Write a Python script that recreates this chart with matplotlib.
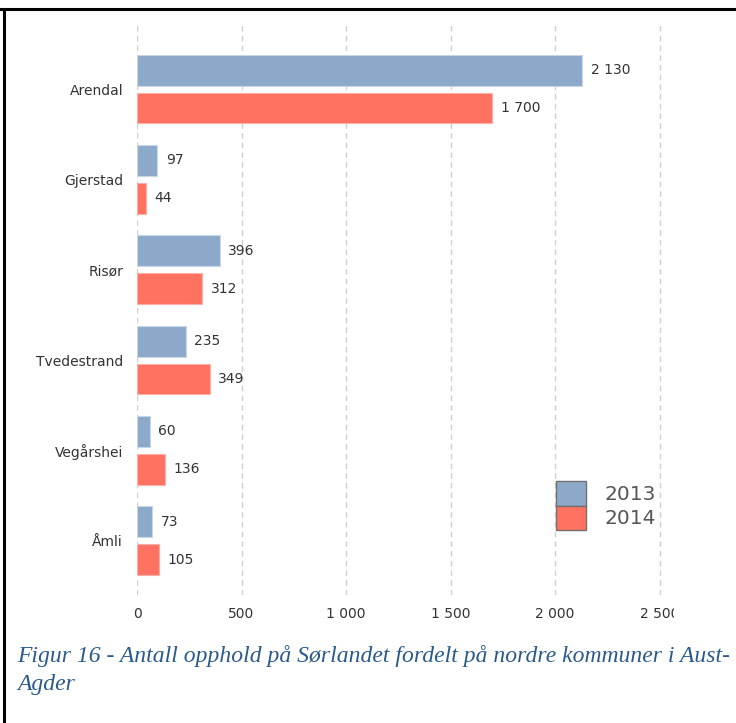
import numpy as np
import matplotlib.pyplot as plt
from matplotlib.patches import Patch, Rectangle

# data
kommuner = ["Arendal", "Gjerstad", "Risør", "Tvedestrand", "Vegårshei", "Åmli"]
opphold_2013 = [2130, 97, 396, 235, 60, 73]
opphold_2014 = [1700, 44, 312, 349, 136, 105]
years = ["2013", "2014"]
xticks = [0, 500, 1000, 1500, 2000, 2500]

c2013 = "#8DA9CA"
c2014 = "#FF7262"
txt = "#333333"


def fmt(v):
    # norwegian thousands separator
    return f"{v:,}".replace(",", " ")


W, H = 736, 723
fig = plt.figure(figsize=(W / 100, H / 100), dpi=100)

# plot area in pixels: left 137, right 683, top 25, bottom 595
ax = fig.add_axes([137 / W, 1 - 595 / H, (683 - 137) / W, (595 - 25) / H])

y = np.arange(len(kommuner))
h = 0.34
off = 0.21
ax.barh(y - off, opphold_2013, height=h, color=c2013, edgecolor="#c8d6e6", linewidth=0.8, zorder=3)
ax.barh(y + off, opphold_2014, height=h, color=c2014, edgecolor="#ffb0a6", linewidth=0.8, zorder=3)

for yi, a, b in zip(y, opphold_2013, opphold_2014):
    ax.text(a + 40, yi - off, fmt(a), va="center", ha="left", fontsize=10, color=txt)
    ax.text(b + 40, yi + off, fmt(b), va="center", ha="left", fontsize=10, color=txt)

ax.set_xlim(0, (683 - 137) / 0.209)
ax.set_ylim(5.6, -0.71)
ax.set_yticks(y)
ax.set_yticklabels(kommuner, fontsize=10, color=txt)
ax.set_xticks(xticks)
ax.set_xticklabels([fmt(v) for v in xticks], fontsize=10, color=txt)
ax.tick_params(length=0, axis="y", pad=10)
ax.tick_params(length=0, axis="x", pad=9)
ax.grid(axis="x", color="#d0d0d0", linestyle=(0, (4, 3)), linewidth=1, zorder=0)
for s in ax.spines.values():
    s.set_visible(False)

# chart image is cut off at the right, so the last tick label only shows "2 50"
fig.add_artist(Rectangle((674 / W, 1 - 630 / H), (W - 674) / W, 30 / H,
                         facecolor="white", edgecolor="none",
                         transform=fig.transFigure, zorder=10))

handles = [Patch(facecolor=c2013, edgecolor="#707070", linewidth=1),
           Patch(facecolor=c2014, edgecolor="#707070", linewidth=1)]
fig.legend(handles, years, loc="upper left", bbox_to_anchor=(556 / W, 1 - 481 / H),
           bbox_transform=fig.transFigure, frameon=False, fontsize=14.5,
           handlelength=1.5, handleheight=1.5, handletextpad=0.9,
           labelspacing=0, borderpad=0, borderaxespad=0, labelcolor="#555555")

# caption below the chart
cap = dict(family="Liberation Serif", style="italic", fontsize=17, color="#2A5A8C")
fig.text(17 / W, 1 - 662 / H,
         "Figur 16 - Antall opphold på Sørlandet fordelt på nordre kommuner i Aust-",
         va="baseline", ha="left", **cap)
fig.text(17 / W, 1 - 690 / H, "Agder", va="baseline", ha="left", **cap)

# table cell borders
fig.add_artist(plt.Line2D([0, 1], [1 - 9 / H, 1 - 9 / H], color="black", linewidth=2.2,
                          transform=fig.transFigure))
fig.add_artist(plt.Line2D([3.5 / W, 3.5 / W], [0, 1 - 9 / H], color="black", linewidth=2.2,
                          transform=fig.transFigure))

fig.savefig("out.png", dpi=100, facecolor="white")
